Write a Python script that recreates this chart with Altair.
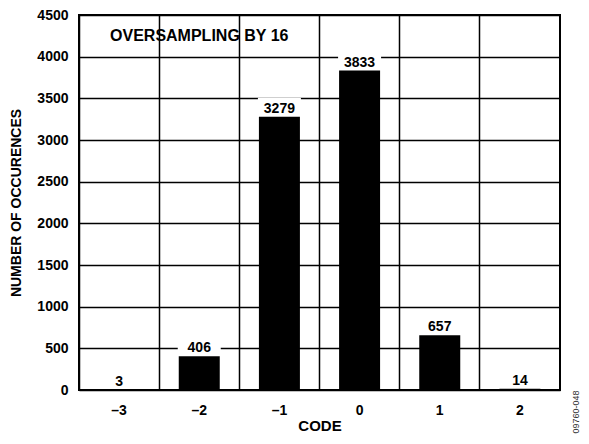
import altair as alt
import pandas as pd

codes = ["\u20133", "\u20132", "\u20131", "0", "1", "2"]
counts = [3, 406, 3279, 3833, 657, 14]
y_ticks = [0, 500, 1000, 1500, 2000, 2500, 3000, 3500, 4000, 4500]
annotation = "OVERSAMPLING BY 16"
fig_id = "09760-048"

df = pd.DataFrame({"code": codes, "count": counts})
FONT = "Liberation Sans"

x_enc = alt.X(
    "code:N", sort=codes, title="CODE",
    scale=alt.Scale(paddingInner=0, paddingOuter=0),
    axis=alt.Axis(grid=True, bandPosition=0, ticks=False, domain=False,
                  labelAngle=0, labelPadding=13, titlePadding=1),
)
y_enc = alt.Y(
    "count:Q", title="NUMBER OF OCCURENCES",
    scale=alt.Scale(domain=[0, 4500], nice=False),
    axis=alt.Axis(values=y_ticks, format="d", grid=True, ticks=False, domain=False,
                  labelPadding=11, titlePadding=13, titleFontSize=14),
)

base = alt.Chart(df)

gaps = base.mark_tick(color="white", size=43, thickness=18, opacity=1, yOffset=-10).encode(
    x=x_enc, y=y_enc)
bars = base.mark_bar(color="black", size=41).encode(x=x_enc, y=y_enc)
labels = base.mark_text(font=FONT, fontWeight="bold", fontSize=14, baseline="alphabetic",
                        dy=-4, color="black").encode(
    x=alt.X("code:N", sort=codes), y="count:Q", text="count:Q")

note_df = pd.DataFrame({"code": [codes[1]], "count": [4250], "t": [annotation]})
note = alt.Chart(note_df).mark_text(font=FONT, fontWeight="bold", fontSize=16,
                                    baseline="middle", color="black").encode(
    x=alt.X("code:N", sort=codes), y="count:Q", text="t:N")

side_df = pd.DataFrame({"t": [fig_id]})
side = alt.Chart(side_df).mark_text(font=FONT, fontSize=9, angle=270,
                                    baseline="middle", color="#333333").encode(
    x=alt.value(497), y=alt.value(397), text="t:N")

chart = alt.layer(gaps, bars, labels, note, side).properties(
    width=481, height=375,
    padding={"left": 71, "top": 7, "right": 21, "bottom": 46},
    autosize="none",
).configure_view(
    stroke="black", strokeWidth=2,
).configure_axis(
    gridColor="black", gridWidth=1.5, gridOpacity=1,
    labelFont=FONT, labelFontWeight="bold", labelFontSize=14, labelColor="black",
    titleFont=FONT, titleFontWeight="bold", titleFontSize=15, titleColor="black",
)

chart.save("out.html", embed_options={"renderer": "svg", "actions": False})
